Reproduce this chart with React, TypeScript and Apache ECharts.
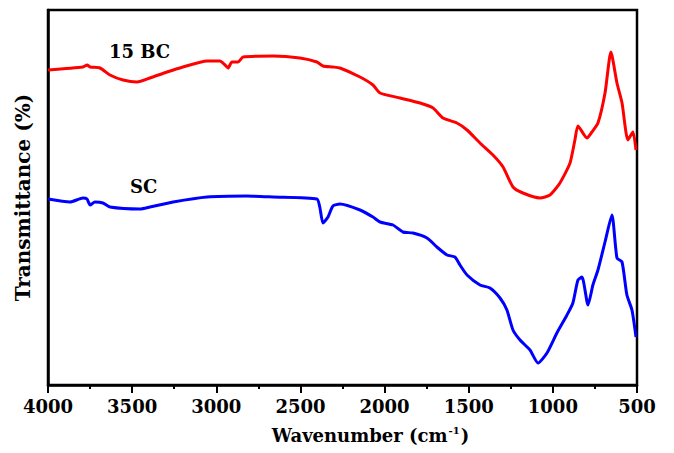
import React, { useEffect, useRef } from "react";
import * as echarts from "echarts";

const redWavenumbers = [4000, 3792, 3768, 3750, 3691, 3632, 3554, 3471, 3394, 3293, 3198, 3055, 2978, 2948, 2930, 2907, 2871, 2841, 2663, 2503, 2402, 2366, 2307, 2265, 2146, 2069, 2027, 1908, 1789, 1712, 1653, 1570, 1510, 1433, 1356, 1296, 1237, 1178, 1077, 1017, 958, 898, 869, 851, 797, 768, 732, 690, 655, 619, 589, 554, 524, 506];
const redValues = [315, 318, 320, 318, 317, 310, 305, 303, 307, 313, 318, 324, 324, 320, 317, 323, 323, 328, 329, 327, 323, 319, 318, 317, 308, 300, 292, 287, 282, 277, 267, 262, 255, 242, 230, 218, 198, 192, 187, 190, 202, 222, 245, 259, 247, 253, 262, 292, 333, 302, 282, 245, 253, 235];

const blueWavenumbers = [4000, 3869, 3792, 3768, 3750, 3721, 3673, 3632, 3453, 3394, 3257, 3055, 2818, 2663, 2402, 2384, 2366, 2336, 2307, 2265, 2146, 2069, 2027, 1950, 1891, 1831, 1748, 1689, 1629, 1582, 1552, 1510, 1433, 1374, 1314, 1273, 1237, 1195, 1136, 1088, 1035, 976, 916, 881, 851, 827, 791, 762, 732, 690, 649, 619, 589, 560, 530, 506];
const blueValues = [186, 183, 187, 186, 180, 183, 182, 178, 176, 178, 183, 188, 189, 188, 186, 177, 162, 168, 179, 181, 175, 168, 163, 160, 153, 152, 147, 138, 130, 128, 120, 110, 100, 97, 87, 75, 55, 45, 35, 22, 32, 52, 70, 82, 105, 108, 80, 100, 115, 143, 170, 127, 123, 90, 75, 48];

const xTicks = [4000, 3500, 3000, 2500, 2000, 1500, 1000, 500];
const seriesNames = ["15 BC", "SC"];

const FONT = "DejaVu Serif";

export default function App() {
  const ref = useRef<HTMLDivElement>(null);
  useEffect(() => {
    if (!ref.current) return;
    const chart = echarts.init(ref.current, null, { renderer: "svg" });
    const red = redWavenumbers.map((w, i) => [w, redValues[i]]);
    const blue = blueWavenumbers.map((w, i) => [w, blueValues[i]]);
    chart.setOption({
      animation: false,
      backgroundColor: "#ffffff",
      grid: {
        left: 48,
        right: 37,
        top: 10,
        bottom: 68,
        show: true,
        borderColor: "#000",
        borderWidth: 2.5,
      },
      xAxis: {
        type: "value",
        inverse: true,
        min: xTicks[xTicks.length - 1],
        max: xTicks[0],
        interval: 500,
        axisLine: { show: true, lineStyle: { color: "#000", width: 2.5 } },
        axisTick: { show: true, inside: false, length: 8, lineStyle: { color: "#000", width: 2 } },
        minorTick: { show: true, splitNumber: 2, length: 4, lineStyle: { color: "#000", width: 2 } },
        splitLine: { show: false },
        axisLabel: {
          color: "#000",
          fontFamily: FONT,
          fontWeight: "bold",
          fontSize: 18,
          margin: 12,
          formatter: (v: number) => String(v),
        },
        name: "{a|Wavenumber (cm}{s|-1}{a|)}",
        nameLocation: "middle",
        nameGap: 40,
        nameTextStyle: {
          padding: [0, 0, 0, 56],
          rich: {
            a: { fontFamily: FONT, fontWeight: "bold", fontSize: 18, color: "#000" },
            s: { fontFamily: FONT, fontWeight: "bold", fontSize: 10, color: "#000", verticalAlign: "top", padding: [0, 1, 10, 1] },
          },
        },
      },
      yAxis: {
        type: "value",
        min: 0,
        max: 375,
        axisLine: { show: true, lineStyle: { color: "#000", width: 2.5 } },
        axisTick: { show: false },
        axisLabel: { show: false },
        splitLine: { show: false },
        name: "Transmittance (%)",
        nameLocation: "middle",
        nameGap: 15,
        nameTextStyle: { fontFamily: FONT, fontWeight: "bold", fontSize: 20, color: "#000" },
      },
      graphic: [
        { type: "text", left: 109, top: 42, style: { text: seriesNames[0], fontFamily: FONT, fontWeight: "bold", fontSize: 18, fill: "#000" } },
        { type: "text", left: 130, top: 177, style: { text: seriesNames[1], fontFamily: FONT, fontWeight: "bold", fontSize: 18, fill: "#000" } },
      ],
      series: [
        {
          name: seriesNames[0],
          type: "line",
          data: red,
          showSymbol: false,
          smooth: 0.2,
          lineStyle: { color: "#ff0000", width: 3 },
        },
        {
          name: seriesNames[1],
          type: "line",
          data: blue,
          showSymbol: false,
          smooth: 0.2,
          lineStyle: { color: "#0000ff", width: 3 },
        },
      ],
    });
    return () => chart.dispose();
  }, []);
  return <div ref={ref} style={{ width: 674, height: 453, position: "absolute", left: 0, top: 0 }} />;
}
